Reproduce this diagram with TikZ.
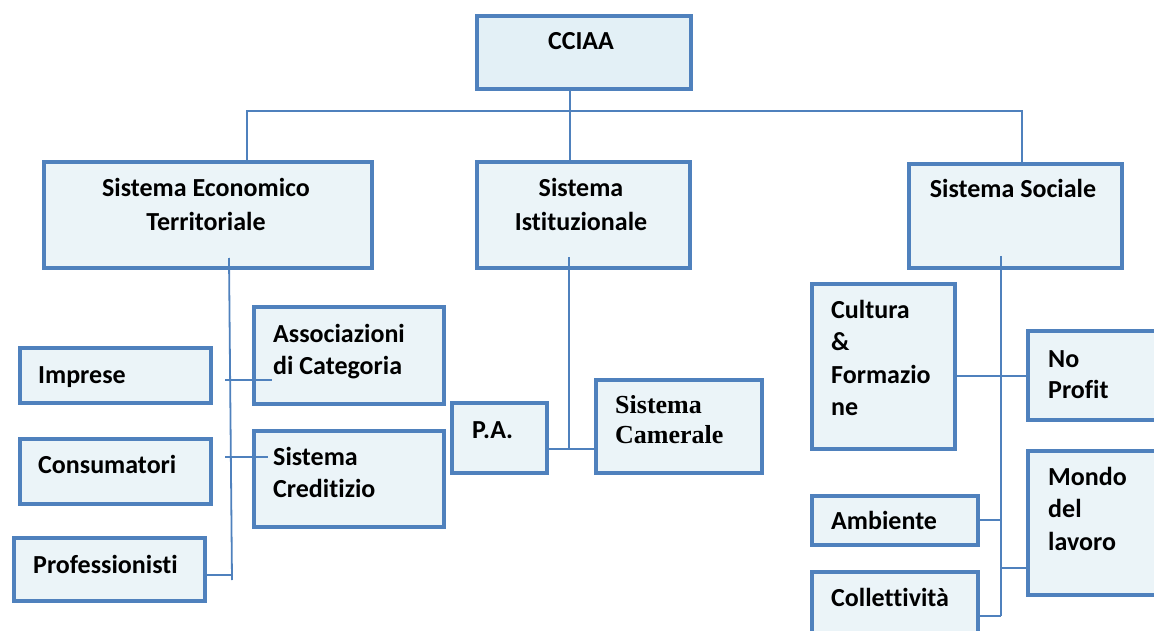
\documentclass[tikz,border=0pt]{standalone}
\usepackage{fontspec}
\setmainfont{Carlito}[Ligatures=NoCommon]
\newfontfamily\tnr{Liberation Serif}
\definecolor{bstroke}{HTML}{4F81BD}
\definecolor{bfill}{HTML}{EBF4F8}
\definecolor{cfill}{HTML}{E3F0F6}
\newcommand\mybox[6][bfill]{\node[box, fill=#1, anchor=north west, minimum width=#5pt, minimum height=#6pt] (#2) at (#3,#4) {};}
\begin{document}
\begin{tikzpicture}[x=1pt,y=-1pt,
  box/.style={draw=bstroke, line width=3.6pt, rectangle, inner sep=0pt},
  conn/.style={draw=bstroke, line width=1.8pt},
  lbl/.style={inner sep=0pt, font=\fontsize{26}{33}\selectfont\bfseries, anchor=base west, text=black},
  clbl/.style={lbl, anchor=base},
  slbl/.style={inner sep=0pt, font=\fontsize{26}{31}\selectfont\tnr\bfseries, anchor=base west, text=black}]
\useasboundingbox (0,0) rectangle (1154,631);
\clip (0,0) rectangle (1154,631);
% boxes
\mybox[cfill]{cciaa}{475}{14}{214}{73}
\mybox{set}{42}{160}{328}{106}
\mybox{si}{475}{160}{213}{106}
\mybox{ss}{907}{162}{213}{104}
\mybox{imp}{18}{346}{191}{55}
\mybox{con}{18}{437}{191}{65}
\mybox{pro}{12}{536}{191}{63}
\mybox{ass}{252}{305}{190}{97}
\mybox{cre}{252}{429}{190}{96}
\mybox{pa}{450}{401}{95}{70}
\mybox{cam}{594}{378}{166}{93}
\mybox{cul}{810}{282}{143}{165}
\mybox{npr}{1026}{329}{160}{89}
\mybox{mon}{1026}{449}{160}{144}
\mybox{amb}{810}{494}{166}{49}
\mybox{col}{810}{570}{166}{90}
% connectors
\coordinate (busL) at (247,111);
\coordinate (busM) at (570,111);
\coordinate (busR) at (1022,111);
\draw[conn] (busM |- cciaa.south) ++(0,-3) -- (busM |- si.north);
\draw[conn] (busL |- set.north) -- (busL) -- (busR) -- (busR |- ss.north);
% economic system
\coordinate (eTop) at (229,258);
\coordinate (eBot) at (232,580);
\draw[conn] (eTop) -- (eBot);
\draw[conn] (225,380) -- (ass.west |- 0,380) -- ++(20,0);
\draw[conn] (225,457) -- (cre.west |- 0,457) -- ++(16,0);
\draw[conn] (pro.east |- 0,575) -- (232,575);
% institutional
\draw[conn] (569,257) -- (569,449);
\draw[conn] (pa.east |- 0,449) -- (cam.west |- 0,449);
% social
\draw[conn] (1001,256) -- (1001,616);
\draw[conn] (cul.east |- 0,376) -- (npr.west |- 0,376);
\draw[conn] (amb.east |- 0,520) -- (1001,520);
\draw[conn] (1001,568) -- (mon.west |- 0,568);
\draw[conn] (col.east |- 0,616) -- (1001,616);
% labels
\node[clbl] (tcciaa) at (581,50) {CCIAA};
\node[clbl] (tset1) at (206,197) {Sistema Economico};
\node[clbl] (tset2) at (206,230) {Territoriale};
\node[clbl] (tsi1) at (581,197) {Sistema};
\node[clbl] (tsi2) at (581,230) {Istituzionale};
\node[clbl] (tss) at (1013,198) {Sistema Sociale};
\node[lbl] (timp) at (38,383) {Imprese};
\node[lbl] (tcon) at (38,473) {Consumatori};
\node[lbl] (tpro) at (33,573) {Professionisti};
\node[lbl] (tass1) at (273,342) {Associazioni};
\node[lbl] (tass2) at (273,374) {di Categoria};
\node[lbl] (tcre1) at (273,465) {Sistema};
\node[lbl] (tcre2) at (273,497) {Creditizio};
\node[lbl] (tpa) at (472,438) {P.A.};
\node[slbl] (tcam1) at (615,413) {Sistema};
\node[slbl] (tcam2) at (615,443) {Camerale};
\node[lbl] (tcul1) at (831,318) {Cultura};
\node[lbl] (tcul2) at (831,350) {\&};
\node[lbl] (tcul3) at (831,383) {Formazio};
\node[lbl] (tcul4) at (831,415) {ne};
\node[lbl] (tnp1) at (1048,367) {No};
\node[lbl] (tnp2) at (1048,398) {Profit};
\node[lbl] (tmon1) at (1048,485) {Mondo};
\node[lbl] (tmon2) at (1048,517) {del};
\node[lbl] (tmon3) at (1048,550) {lavoro};
\node[lbl] (tamb) at (831,529) {Ambiente};
\node[lbl] (tcol) at (831,606) {Collettività};
\end{tikzpicture}
\end{document}
